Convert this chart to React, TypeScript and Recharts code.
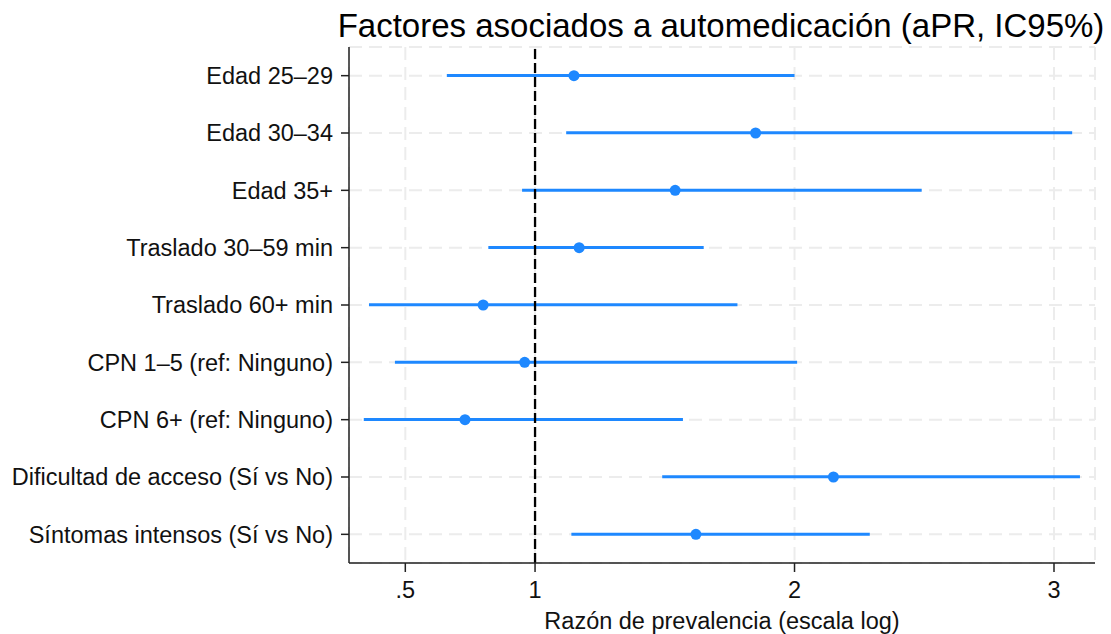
import React from 'react';
import {
  Bar,
  CartesianGrid,
  ComposedChart,
  Customized,
  Line,
  ReferenceLine,
  XAxis,
  YAxis,
} from 'recharts';

const labels = [
  'Edad 25–29',
  'Edad 30–34',
  'Edad 35+',
  'Traslado 30–59 min',
  'Traslado 60+ min',
  'CPN 1–5 (ref: Ninguno)',
  'CPN 6+ (ref: Ninguno)',
  'Dificultad de acceso (Sí vs No)',
  'Síntomas intensos (Sí vs No)',
];
const pr = [1.15, 1.85, 1.54, 1.17, 0.8, 0.96, 0.73, 2.15, 1.62];
const lower = [0.66, 1.12, 0.95, 0.82, 0.36, 0.46, 0.34, 1.49, 1.14];
const upper = [2.0, 3.07, 2.49, 1.65, 1.78, 2.01, 1.57, 3.1, 2.29];
const xTicks = [0.5, 1, 2, 3];

const FONT = '"Liberation Sans", Arial, Helvetica, sans-serif';
const BLUE = '#1E88FF';

const data = labels.map((label, i) => ({
  label,
  pr: pr[i],
  ci: [lower[i], upper[i]],
}));

const Title = () => (
  <text
    x={721}
    y={37}
    textAnchor="middle"
    fontSize={33}
    fontFamily={FONT}
    fill="#000"
  >
    Factores asociados a automedicación (aPR, IC95%)
  </text>
);

const ForestPlot = () => {
  return (
    <div style={{ position: 'absolute', left: 0, top: 0 }}>
      <ComposedChart
        width={1111}
        height={634}
        data={data}
        layout="vertical"
        margin={{ top: 47, right: 16, left: 0, bottom: 0 }}
        style={{ fontFamily: FONT, background: '#fff' }}
      >
        <CartesianGrid
          stroke="#ececec"
          strokeWidth={2}
          strokeDasharray="13 7"
        />
        <XAxis
          type="number"
          domain={[0.283, 3.158]}
          ticks={xTicks}
          allowDataOverflow
          height={71}
          tickSize={9}
          tickMargin={9}
          tickFormatter={(v) => (v === 0.5 ? '.5' : String(v))}
          tick={{ fontSize: 23.5, fill: '#111', fontFamily: FONT }}
          axisLine={{ stroke: '#222', strokeWidth: 1.5 }}
          tickLine={{ stroke: '#222', strokeWidth: 1.5 }}
          label={{
            content: ({ viewBox }: any) => (
              <text
                x={viewBox.x + viewBox.width / 2}
                y={viewBox.y + 66}
                textAnchor="middle"
                fontSize={23.5}
                fontFamily={FONT}
                fill="#111"
              >
                Razón de prevalencia (escala log)
              </text>
            ),
          }}
        />
        <YAxis
          type="category"
          dataKey="label"
          width={349}
          interval={0}
          tickSize={8}
          tickMargin={8}
          tick={{ fontSize: 23.5, fill: '#111', fontFamily: FONT }}
          axisLine={{ stroke: '#222', strokeWidth: 1.5 }}
          tickLine={{ stroke: '#222', strokeWidth: 1.5 }}
        />
        <ReferenceLine
          x={1}
          stroke="#000"
          strokeWidth={2.3}
          strokeDasharray="10 4"
        />
        <Bar
          dataKey="ci"
          barSize={3}
          fill={BLUE}
          isAnimationActive={false}
        />
        <Line
          dataKey="pr"
          stroke="none"
          dot={{ r: 5.5, fill: BLUE, stroke: BLUE, strokeWidth: 0 }}
          activeDot={false}
          isAnimationActive={false}
        />
        <Customized component={Title} />
      </ComposedChart>
    </div>
  );
};

export default function App() {
  return <ForestPlot />;
}
